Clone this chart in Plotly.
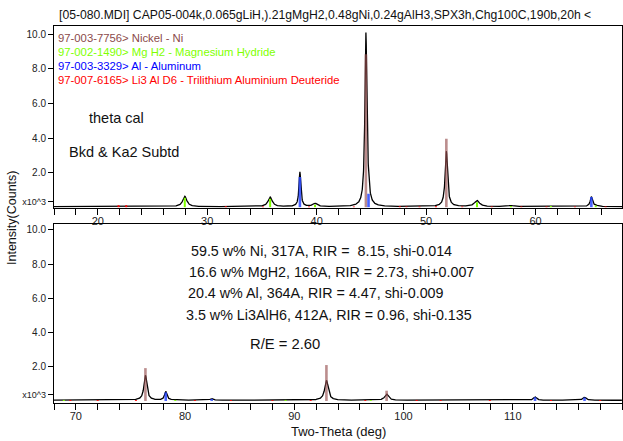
# =============================================================================
# XRD PATTERN - CAP05-004k (two panels, 16-68 and 68-120 deg two-theta)
# =============================================================================
import numpy as np
import plotly.graph_objects as go

# =============================================================================
# DATA (intensities in x10^3 counts)
# =============================================================================
# Nickel - Ni
ni_pos = [44.50, 51.85, 76.37, 92.94, 98.45]
ni_stick = [8.85, 3.97, 1.92, 2.10, 0.60]
ni_obs = [10.0, 3.20, 1.46, 1.16, 0.36]
ni_fwhm = [0.22, 0.26, 0.32, 0.38, 0.40]

# Mg H2 - Magnesium Hydride
mg_pos = [27.95, 35.75, 39.85, 54.65, 57.75, 61.40, 65.50, 68.90, 79.10, 89.20, 97.00]
mg_stick = [0.55, 0.50, 0.15, 0.30, 0.08, 0.08, 0.10, 0.06, 0.06, 0.06, 0.05]
mg_obs = [0.60, 0.55, 0.18, 0.35, 0.07, 0.04, 0.05, 0.04, 0.04, 0.03, 0.03]
mg_fwhm = [0.45, 0.45, 0.45, 0.55, 0.55, 0.55, 0.60, 0.60, 0.65, 0.70, 0.70]

# Al - Aluminum
al_pos = [38.47, 44.74, 65.10, 78.23, 82.44, 112.04, 116.57]
al_stick = [1.75, 0.78, 0.60, 0.50, 0.12, 0.22, 0.20]
al_obs = [2.00, 0.40, 0.56, 0.50, 0.10, 0.20, 0.18]
al_fwhm = [0.20, 0.20, 0.24, 0.26, 0.28, 0.32, 0.34]

# Li3 Al D6 - Trilithium Aluminium Deuteride
li_pos = [21.9, 22.6, 31.7, 35.1, 39.3, 43.4, 47.6, 48.2, 49.4, 50.9, 53.3,
          56.0, 58.7, 61.0, 63.6, 66.4, 69.5, 72.0, 75.5, 80.9, 84.2, 88.0,
          91.5, 96.5, 101.2, 103.4, 107.9, 113.5, 118.0]
li_stick = [0.12, 0.12, 0.06, 0.05, 0.05, 0.05, 0.06, 0.05, 0.05, 0.06, 0.05,
            0.05, 0.05, 0.05, 0.05, 0.05, 0.06, 0.05, 0.05, 0.05, 0.05, 0.05,
            0.05, 0.05, 0.06, 0.05, 0.05, 0.05, 0.05]

baseline = 0.04

phases = [
    ("Ni", ni_pos, ni_stick, "rgba(150,80,80,0.65)", 2.6),
    ("MgH2", mg_pos, mg_stick, "#80FF00", 2.0),
    ("Al", al_pos, al_stick, "rgba(40,70,255,0.85)", 2.6),
    ("Li3AlD6", li_pos, li_stick, "#FF0000", 2.0),
]

legend_lines = [
    ("97-003-7756> Nickel - Ni", "#8B4A4A"),
    ("97-002-1490> Mg H2 - Magnesium Hydride", "#80FF00"),
    ("97-003-3329> Al - Aluminum", "#0000FF"),
    ("97-007-6165> Li3 Al D6 - Trilithium Aluminium Deuteride", "#FF0000"),
]

quant_lines = [
    "59.5 w% Ni, 317A, RIR =  8.15, shi-0.014",
    "16.6 w% MgH2, 166A, RIR = 2.73, shi+0.007",
    "20.4 w% Al, 364A, RIR = 4.47, shi-0.009",
    "3.5 w% Li3AlH6, 412A, RIR = 0.96, shi-0.135",
]

title = "[05-080.MDI] CAP05-004k,0.065gLiH,).21gMgH2,0.48gNi,0.24gAlH3,SPX3h,Chg100C,190b,20h <"

# =============================================================================
# PROFILE (Lorentzian peaks at the read positions)
# =============================================================================
def profile(tt):
    y = np.full_like(tt, baseline)
    for pos, amp, w in [(ni_pos, ni_obs, ni_fwhm), (mg_pos, mg_obs, mg_fwhm),
                        (al_pos, al_obs, al_fwhm)]:
        for p, a, f in zip(pos, amp, w):
            y += a / (1 + ((tt - p) / (f / 2)) ** 2)
    return y

panels = [((16.0, 67.9), "x", "y"), ((68.0, 120.0), "x2", "y2")]

# =============================================================================
# VISUALISATION
# =============================================================================
fig = go.Figure()

for (lo, hi), xa, ya in panels:
    tt = np.arange(lo, hi, 0.01)
    fig.add_trace(go.Scatter(x=tt, y=profile(tt), mode="lines",
                             line=dict(color="black", width=1.3),
                             xaxis=xa, yaxis=ya, showlegend=False,
                             hoverinfo="skip"))
    for name, pos, hgt, col, lw in phases:
        sx, sy = [], []
        for p, h in zip(pos, hgt):
            if lo <= p <= hi:
                sx += [p, p, None]
                sy += [0, h, None]
        fig.add_trace(go.Scatter(x=sx, y=sy, mode="lines",
                                 line=dict(color=col, width=lw),
                                 xaxis=xa, yaxis=ya, showlegend=False,
                                 name=name))

# Axes
xstyle = dict(showline=True, linecolor="black", linewidth=1, mirror=True,
              ticks="outside", ticklen=6, tickcolor="black", tick0=0, dtick=10,
              minor=dict(dtick=2, ticks="outside", ticklen=6, tickcolor="black"),
              ticklabelstandoff=-3,
              showgrid=False, zeroline=False,
              tickfont=dict(family="Liberation Sans", size=11, color="#222"))
ystyle = dict(showline=True, linecolor="black", linewidth=1, mirror=True,
              ticks="outside", ticklen=5, tickcolor="black",
              tickvals=[0.35, 2, 4, 6, 8, 10],
              ticktext=["<span style='font-size:9px'>x10^3</span>",
                        "2.0", "4.0", "6.0", "8.0", "10.0"],
              showgrid=False, zeroline=False,
              tickfont=dict(family="Liberation Sans", size=10, color="#222"))

PL, PR, PT, PB = 54, 1, 26, 38
W, H = 623, 441
pw, ph = W - PL - PR, H - PT - PB

def px(x):
    return (x - PL) / pw

def py(y):
    return (H - PB - y) / ph

fig.update_layout(
    width=W, height=H,
    margin=dict(l=PL, r=PR, t=PT, b=PB),
    paper_bgcolor="white", plot_bgcolor="white",
    xaxis=dict(domain=[0, 1], anchor="y", range=[16.0, 67.9], **xstyle),
    yaxis=dict(domain=[py(207.7), 1], anchor="x", range=[-0.02, 10.48], **ystyle),
    xaxis2=dict(domain=[0, 1], anchor="y2", range=[68.0, 120.0], **xstyle),
    yaxis2=dict(domain=[0, py(224)], anchor="x2", range=[-0.12, 10.35], **ystyle),
    showlegend=False,
)

ann = []
def text(s, x, y, size, color="#111", xanchor="left", angle=0):
    ann.append(dict(text=s, x=px(x), y=py(y), xref="paper", yref="paper",
                    xanchor=xanchor, yanchor="middle", showarrow=False,
                    textangle=angle,
                    font=dict(family="Liberation Sans", size=size, color=color)))

text(title, 57, 15, 12.2)
for (s, c), yy in zip(legend_lines, [37.5, 52, 66, 80]):
    text(s, 56, yy, 11.3, c)
text("theta cal", 87, 118, 14.5)
text("Bkd &amp; Ka2 Subtd", 67, 152, 14.5)
for s, xx, yy in zip(quant_lines, [189, 187, 186, 184], [251, 272, 293, 315]):
    text(s, xx, yy, 14.3)
text("R/E = 2.60", 248, 344, 14.8)
text("Intensity(Counts)", 12, 218, 12.5, xanchor="center", angle=-90)
text("Two-Theta (deg)", 338, 431, 13, xanchor="center")

fig.update_layout(annotations=ann)

# page without the browser's default body margin, no toolbar
fig.write_html("out.html",
               config={"displayModeBar": False},
               post_script="document.body.style.margin='0';")
